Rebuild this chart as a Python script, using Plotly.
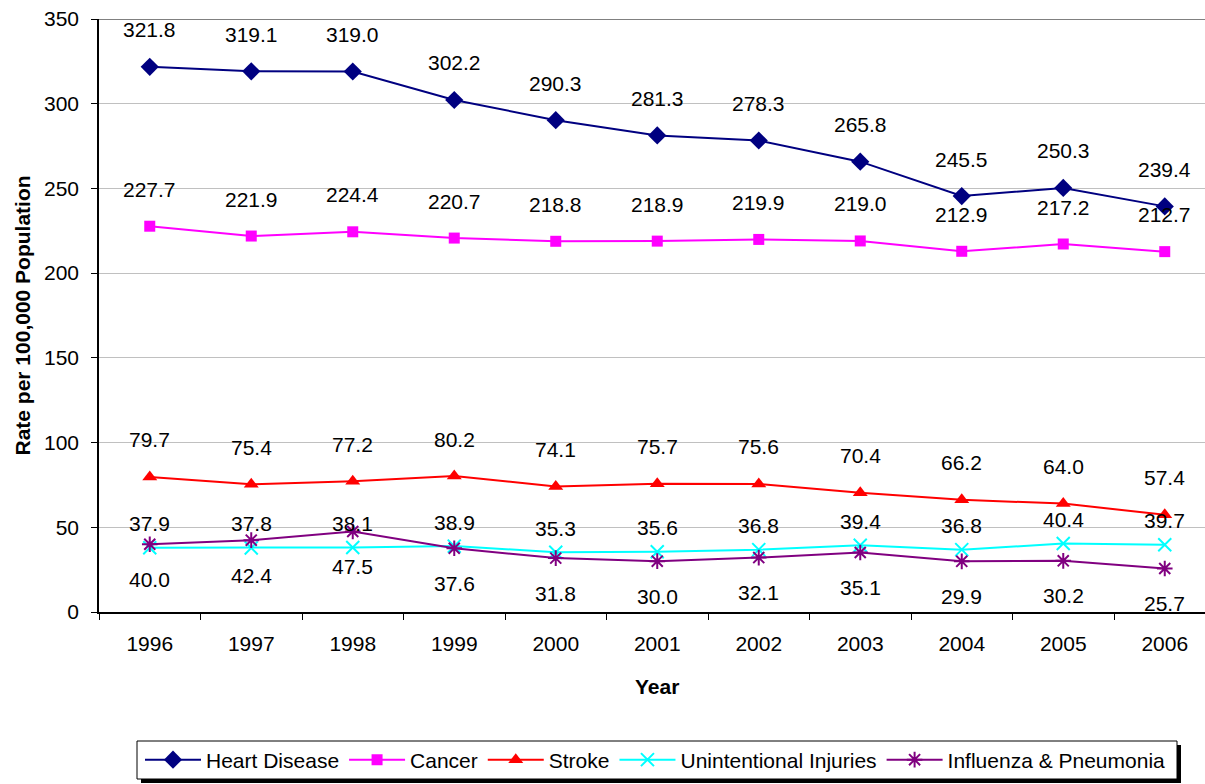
import plotly.graph_objects as go

years = ["1996", "1997", "1998", "1999", "2000", "2001", "2002", "2003", "2004", "2005", "2006"]
heart_disease = [321.8, 319.1, 319.0, 302.2, 290.3, 281.3, 278.3, 265.8, 245.5, 250.3, 239.4]
cancer = [227.7, 221.9, 224.4, 220.7, 218.8, 218.9, 219.9, 219.0, 212.9, 217.2, 212.7]
stroke = [79.7, 75.4, 77.2, 80.2, 74.1, 75.7, 75.6, 70.4, 66.2, 64.0, 57.4]
unintentional = [37.9, 37.8, 38.1, 38.9, 35.3, 35.6, 36.8, 39.4, 36.8, 40.4, 39.7]
influenza = [40.0, 42.4, 47.5, 37.6, 31.8, 30.0, 32.1, 35.1, 29.9, 30.2, 25.7]

FONT = "Liberation Sans, Arial, sans-serif"
W, H = 1205, 784
ML, MR, MT, MB = 99, 0, 19, 172

series = [
    dict(name="Heart Disease", y=heart_disease, color="#000080", symbol="diamond", size=14, lw=0, shift=37),
    dict(name="Cancer", y=cancer, color="#FF00FF", symbol="square", size=11, lw=0, shift=37),
    dict(name="Stroke", y=stroke, color="#FF0000", symbol="triangle-up", size=13, lw=0, shift=37),
    dict(name="Unintentional Injuries", y=unintentional, color="#00FFFF", symbol="x-thin-open", size=13, lw=2, shift=24),
    dict(name="Influenza & Pneumonia", y=influenza, color="#800080", symbol="asterisk-open", size=13, lw=2, shift=-35),
]

fig = go.Figure()
annotations = []
for s in series:
    fig.add_trace(go.Scatter(
        x=years, y=s["y"], name=s["name"], mode="lines+markers",
        line=dict(color=s["color"], width=2),
        marker=dict(symbol=s["symbol"], size=s["size"], color=s["color"],
                    line=dict(color=s["color"], width=s["lw"])),
    ))
    for i, yv in enumerate(s["y"]):
        annotations.append(dict(
            x=i, y=yv, xref="x", yref="y", text=f"{yv:.1f}", showarrow=False,
            yshift=s["shift"], font=dict(family=FONT, size=21, color="black"),
        ))

pw = W - ML - MR
ph = H - MT - MB
cat_w = 101.5

def px_x(px):
    return (px - ML) / pw

def px_y(py):
    return (H - MB - py) / ph

annotations.append(dict(
    x=px_x(22), y=0.5, xref="paper", yref="paper", text="<b>Rate per 100,000 Population</b>",
    textangle=-90, showarrow=False, xanchor="center", yanchor="middle",
    font=dict(family=FONT, size=21, color="black"),
))
annotations.append(dict(
    x=px_x(657), y=px_y(686), xref="paper", yref="paper", text="<b>Year</b>",
    showarrow=False, xanchor="center", yanchor="middle",
    font=dict(family=FONT, size=21, color="black"),
))

shapes = [
    dict(type="line", xref="paper", yref="y", x0=0, x1=1, y0=350, y1=350,
         line=dict(color="#808080", width=2)),
    dict(type="rect", xref="paper", yref="paper", x0=px_x(141), x1=px_x(1181),
         y0=px_y(783), y1=px_y(745), fillcolor="black", line=dict(width=0), layer="above"),
    dict(type="rect", xref="paper", yref="paper", x0=px_x(137), x1=px_x(1177),
         y0=px_y(779), y1=px_y(741), fillcolor="white", line=dict(color="black", width=1), layer="above"),
]

fig.update_layout(
    width=W, height=H,
    margin=dict(l=ML, r=MR, t=MT, b=MB, pad=0),
    paper_bgcolor="white", plot_bgcolor="white",
    font=dict(family=FONT, size=21, color="black"),
    showlegend=True,
    legend=dict(
        orientation="h", x=px_x(140), y=px_y(760), xanchor="left", yanchor="middle",
        bgcolor="rgba(0,0,0,0)", borderwidth=0, font=dict(family=FONT, size=21, color="black"),
        itemwidth=56, tracegroupgap=0,
    ),
    annotations=annotations,
    shapes=shapes,
)

fig.update_xaxes(
    type="category", range=[-0.5, -0.5 + pw / cat_w],
    showline=True, linecolor="black", linewidth=1.5,
    ticks="outside", tickson="boundaries", ticklen=6, tickcolor="black", tickwidth=1,
    showgrid=False, zeroline=False, ticklabelstandoff=12,
    tickfont=dict(family=FONT, size=21, color="black"),
)
fig.update_yaxes(
    range=[0, 350], tickvals=[0, 50, 100, 150, 200, 250, 300, 350],
    showline=True, linecolor="black", linewidth=1.5,
    ticks="outside", ticklen=6, tickcolor="black", tickwidth=1,
    showgrid=True, gridcolor="#C0C0C0", gridwidth=1, zeroline=False,
    ticklabelstandoff=8,
    tickfont=dict(family=FONT, size=21, color="black"),
)

fig.write_html("out.html", config={"displayModeBar": False},
               post_script="document.body.style.margin='0';")
